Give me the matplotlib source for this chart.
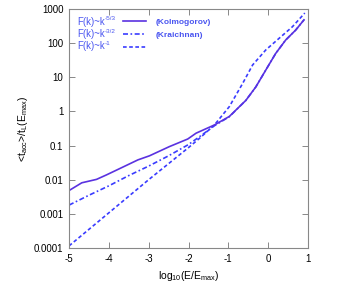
import numpy as np
import matplotlib
matplotlib.use('Agg')
import matplotlib.pyplot as plt
from matplotlib.lines import Line2D

plt.rcParams['font.family'] = ['Liberation Sans', 'DejaVu Sans']
plt.rcParams['mathtext.default'] = 'regular'

# log10(E/Emax) and <t_acc>/t_L(E_max)
x_kol = [-5.0, -4.68, -4.31, -4.06, -3.77, -3.27, -2.98, -2.48, -2.02, -1.81,
         -1.35, -0.975, -0.56, -0.31, -0.06, 0.19, 0.44, 0.69, 0.9]
y_kol = [0.0048, 0.0081, 0.0102, 0.0138, 0.020, 0.038, 0.050, 0.093, 0.155, 0.23,
         0.40, 0.71, 2.1, 5.2, 16.2, 50, 123, 240, 480]

x_kra = [-5.0, -4.5, -4.0, -3.5, -3.0, -2.5, -2.0, -1.7, -1.35, -0.975,
         -0.56, -0.31, -0.06, 0.19, 0.44, 0.69, 0.9]
y_kra = [0.0018, 0.0035, 0.0066, 0.0132, 0.025, 0.050, 0.107, 0.19, 0.38, 0.70,
         2.1, 5.2, 16.2, 50, 123, 240, 480]

x_k1 = [-5.0, -4.0, -3.0, -2.0, -1.725, -1.35, -0.975, -0.64, -0.39, -0.06,
        0.275, 0.61, 0.92]
y_k1 = [0.000115, 0.00107, 0.0100, 0.087, 0.162, 0.40, 1.38, 6.6, 22.9, 63,
        138, 302, 760]

exponents = ['-5/3', '-3/2', '-1']
names = ['(Kolmogorov)', '(Kraichnan)', ' ']

c_solid = '#5a32e0'
c_blue = '#3a3cff'
c_text = '#4a55f0'

fig = plt.figure(figsize=(3.54, 2.89), dpi=100)
ax = fig.add_axes([0.195, 0.142, 0.675, 0.827])

ls_kra = (0, (3.0, 1.5, 1.0, 1.5))
ls_k1 = (0, (2.2, 1.5))

ax.plot(x_k1, y_k1, color=c_blue, lw=1.2, ls=ls_k1)
ax.plot(x_kra, y_kra, color=c_blue, lw=1.2, ls=ls_kra)
ax.plot(x_kol, y_kol, color=c_solid, lw=1.2)

ax.set_yscale('log')
ax.set_xlim(-5, 1)
ax.set_ylim(1e-4, 1e3)
ax.set_xticks(np.arange(-5, 2))
ax.set_xticklabels([str(v) for v in range(-5, 2)])
yt = [1e-4, 1e-3, 1e-2, 1e-1, 1, 10, 100, 1000]
ax.set_yticks(yt)
ax.set_yticklabels(['0.0001', '0.001', '0.01', '0.1', '1', '10', '100', '1000'])
ax.minorticks_off()
ax.tick_params(direction='in', length=4, width=0.7, color='#888888',
               top=True, right=True, labelsize=7, pad=4)
for s in ax.spines.values():
    s.set_color('#888888')
    s.set_linewidth(0.8)

ax.set_xlabel(r'log$_{10}$(E/E$_{max}$)', fontsize=7.5, labelpad=4)
ax.set_ylabel(r'<t$_{acc}$>/t$_L$(E$_{max}$)', fontsize=7.5, labelpad=3)

# legend: line samples with the model names, formulas written beside them
handles = [Line2D([], [], color=c_solid, lw=1.2),
           Line2D([], [], color=c_blue, lw=1.2, ls=ls_kra),
           Line2D([], [], color=c_blue, lw=1.2, ls=ls_k1)]
leg = ax.legend(handles, names, loc='upper left', frameon=False,
                fontsize=6, handlelength=2.8, handletextpad=1.1,
                labelspacing=0.62, borderpad=0, borderaxespad=0,
                bbox_to_anchor=(0.226, 0.96))
for t in leg.get_texts():
    t.set_color(c_text)
    t.set_fontweight('bold')

for i, e in enumerate(exponents):
    base = ax.text(0.033, 0.947 - i * 0.052, 'F(k)~k', transform=ax.transAxes,
                   fontsize=6.9, color=c_text, va='center')
    ax.annotate(e, xy=(1, 0.55), xycoords=base, xytext=(0.3, 0),
                textcoords='offset points', fontsize=4.6, color=c_text,
                va='bottom', ha='left')

fig.savefig('out.png', dpi=100)
